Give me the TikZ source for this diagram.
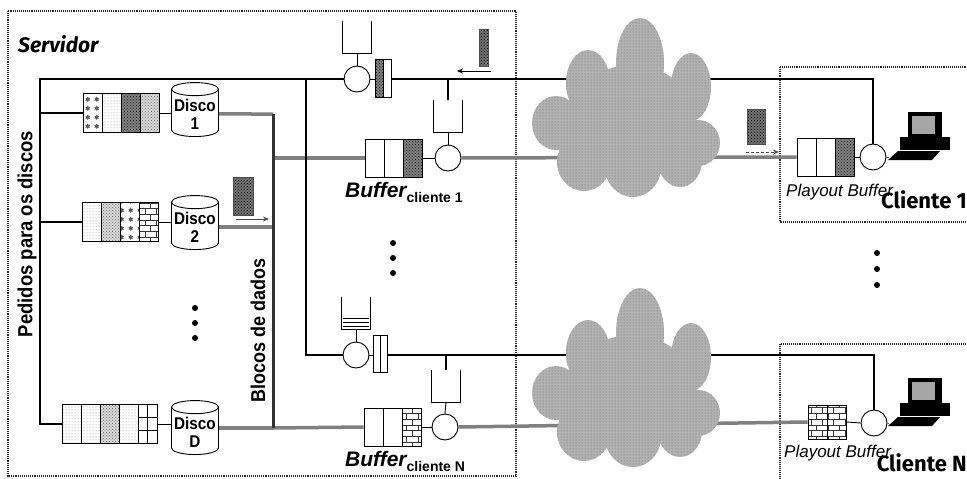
\documentclass[tikz,border=0pt]{standalone}
\usepackage{fontspec}
\setmainfont{Liberation Sans}
\newfontfamily\titlefont{Fira Sans}
\newfontfamily\narrowfont[FakeStretch=0.9]{Liberation Sans}
\usetikzlibrary{arrows.meta,shapes.geometric,patterns,calc}

\begin{document}
\begin{tikzpicture}[x=1pt, y=-1pt,
    frame/.style={densely dotted, line width=1.1pt, black!85},
    cell/.style={draw, line width=0.8pt, preaction={fill=white}, minimum width=19pt, minimum height=39pt, inner sep=0pt},
    branco/.style={},
    flor/.style={pattern=sixpointed stars, pattern color=black!65},
    claro/.style={pattern=dots, pattern color=black!45},
    escuro/.style={preaction={fill=black!50}, pattern=crosshatch dots, pattern color=black!90},
    medio/.style={preaction={fill=black!15}, pattern=crosshatch dots, pattern color=black!60},
    tijolo/.style={pattern=bricks, pattern color=black!80},
    disk/.style={cylinder, shape border rotate=90, draw, line width=0.9pt, fill=white, aspect=0.3,
                 minimum width=47pt, minimum height=54pt, inner sep=1pt, align=center,
                 font=\narrowfont\bfseries\fontsize{17}{18}\selectfont},
    srv/.style={circle, draw, line width=0.9pt, fill=white, minimum size=26pt, inner sep=0pt},
    tank/.style={minimum width=29pt, minimum height=32pt, inner sep=0pt},
    ctrl/.style={line width=2.6pt},
    data/.style={line width=3.5pt, draw=black!50},
    bus/.style={line width=3pt, draw=black!80},
    link/.style={line width=0.9pt},
    pkt/.style={draw=black!70, line width=0.5pt, preaction={fill=black!55}, pattern=crosshatch dots, pattern color=black, inner sep=0pt},
    seta/.style={-{Stealth[length=6pt,width=5pt]}, line width=0.6pt},
    nuvemfill/.style={preaction={fill=black!30}, pattern=dots, pattern color=black!60},
    nuvem/.pic={
        \fill[nuvemfill] (14,-42) ellipse (24 and 45)
            (-38,-22) ellipse (22 and 33)
            (65,-18) ellipse (20 and 34)
            (-70,18) ellipse (24 and 27)
            (72,38) ellipse (22 and 23)
            (-42,57) ellipse (27 and 29)
            (7,62) ellipse (28 and 30)
            (54,56) ellipse (22 and 26)
            (6,14) ellipse (62 and 54);
    },
    pc/.pic={
        \fill[black] (-20,-13) rectangle (30,0);
        \fill[black] (-12,-38) rectangle (22,-12);
        \fill[black!35] (-8,-34) rectangle (15,-16);
        \fill[black] (-32,10) -- (-22,1) -- (20,1) -- (12,10) -- cycle;
        \coordinate (-kb) at (-31,7);
    },
]
\useasboundingbox (0,0) rectangle (967,479);

% Frames
\draw[frame] (8,11) rectangle (516,476);
\draw[frame] (780,67) rectangle (975,222);
\draw[frame] (780,344) rectangle (975,490);

% Disk queues
\foreach \p [count=\i] in {flor,claro,escuro,medio}
    \node[cell,\p] (q1-\i) at ({73.5+19*\i},113) {};
\foreach \p [count=\i] in {claro,medio,flor,tijolo}
    \node[cell,\p] (q2-\i) at ({72.5+19*\i},222) {};
\foreach \p [count=\i] in {claro,claro,medio,claro,branco}
    \node[cell,\p] (qD-\i) at ({52.5+19*\i},424) {};
\draw[link] (qD-5.north) -- (qD-5.south)
    ($(qD-5.north west)!1/3!(qD-5.south west)$) -- ($(qD-5.north east)!1/3!(qD-5.south east)$)
    ($(qD-5.north west)!2/3!(qD-5.south west)$) -- ($(qD-5.north east)!2/3!(qD-5.south east)$);

% Disks
\node[disk] (d1) at (195,114) {Disco\\1};
\node[disk] (d2) at (195,227) {Disco\\2};
\node[disk] (dD) at (195,432) {Disco\\D};
\draw[link] (q1-4.east) -- (q1-4.east -| d1.west);
\draw[link] (q2-4.east) -- (q2-4.east -| d2.west);
\draw[link] (qD-5.east) -- (qD-5.east -| dD.west);

% Server side buffers
\foreach \p [count=\i] in {branco,branco,escuro}
    \node[cell,\p,minimum height=38pt] (bq1-\i) at ({355.5+19*\i},158) {};
\foreach \p [count=\i] in {branco,branco,tijolo}
    \node[cell,\p,minimum height=38pt] (bqN-\i) at ({354.5+19*\i},427) {};
\node[srv] (bs1) at (448,158) {};
\node[srv] (bsN) at (445,427) {};
\node[tank] (tb1) at (448,116) {};
\node[tank] (tbN) at (446,386) {};

% Request schedulers
\node[srv] (sv1) at (357,79) {};
\node[srv] (svN) at (356,355) {};
\node[tank] (tk1) at (357,37) {};
\node[tank] (tkN) at (356,313) {};
\node[cell,escuro,minimum width=8pt,minimum height=38pt] (sb1-1) at (379,78) {};
\node[cell,minimum width=8pt,minimum height=38pt] (sb1-2) at (387,78) {};
\node[cell,minimum width=7pt,minimum height=37pt] (sbN-1) at (376.5,354) {};
\node[cell,minimum width=7pt,minimum height=37pt] (sbN-2) at (383.5,354) {};

% Playout buffers
\foreach \p [count=\i] in {branco,branco,escuro}
    \node[cell,\p,minimum height=38pt] (pq1-\i) at ({787.5+19*\i},157) {};
\foreach \p [count=\i] in {tijolo,tijolo}
    \node[cell,\p,minimum height=34pt] (pqN-\i) at ({798.5+19*\i},422) {};
\node[srv] (pl1) at (873,157) {};
\node[srv] (plN) at (874,423) {};

% Data paths
\coordinate (busT) at (273,114);
\coordinate (busB) at (273,428);
\draw[data] (d1.east) -- (busT);
\draw[data] (d2.east) -- (d2.east -| busT);
\draw[data] (dD.east |- busB) -- (busB);
\draw[data] (busT |- bq1-1.west) -- (bq1-1.west);
\draw[data] (busB) -- (bqN-1.west);
\draw[data] (bs1.east) -- (pq1-1.west);
\draw[data] (bsN.east) -- (pqN-1.west);
\draw[bus] (busT) -- (busB);

% Request paths
\coordinate (pTop) at (40,79);
\coordinate (jTop) at (306,79);
\draw[ctrl] (sv1.west) -- (pTop) -- (pTop |- qD-1.west) -- (qD-1.west);
\draw[ctrl] (q1-1.west) -- (q1-1.west -| pTop);
\draw[ctrl] (q2-1.west) -- (q2-1.west -| pTop);
\draw[ctrl] (jTop) |- (svN.west);
\draw[ctrl] (sb1-2.east |- sv1) -| (pl1.north);
\draw[ctrl] (sbN-2.east |- svN) -| (plN.north);
\draw[ctrl] (tb1.north |- sv1) -- (tb1.north);
\draw[ctrl] (tbN.north |- svN) -- (tbN.north);

% Links
\draw[link] (sv1.east) -- (sb1-1.west |- sv1);
\draw[link] (svN.east) -- (sbN-1.west |- svN);
\draw[link] (tk1.south) -- (sv1.north);
\draw[link] (tkN.south) -- (svN.north);
\draw[link] (tb1.south) -- (bs1.north);
\draw[link] (tbN.south) -- (bsN.north);
\draw[link] (bq1-3.east) -- (bs1.west);
\draw[link] (bqN-3.east) -- (bsN.west);
\draw[link] (pq1-3.east) -- (pl1.west);
\draw[link] (pqN-2.east) -- (plN.west);
\foreach \t in {tk1,tkN,tb1,tbN}
    \draw[link] (\t.north west) |- (\t.south east) -- (\t.north east);
\foreach \k in {3,7,11}
    \draw[line width=1pt] ($(tkN.south west)+(2,-\k)$) -- ($(tkN.south east)+(-2,-\k)$);

% Networks
\pic at (626,105) {nuvem};
\pic at (626,375) {nuvem};

% Clients
\pic (host1) at (920,150) {pc};
\pic (hostN) at (920,416) {pc};
\draw[link, black!60] (pl1.east) -- (host1-kb);
\draw[link, black!60] (plN.east) -- (hostN-kb);

% Blocks in transit
\node[pkt, minimum width=20pt, minimum height=38pt] (pk1) at (243,196) {};
\node[pkt, minimum width=9pt, minimum height=37pt] (pk2) at (484,48) {};
\node[pkt, minimum width=18pt, minimum height=35pt] (pk3) at (756,127) {};
\coordinate (a1s) at (236,219); \coordinate (a1e) at (269,219);
\coordinate (a2s) at (491,71); \coordinate (a2e) at (457,71);
\coordinate (a3s) at (746,152); \coordinate (a3e) at (779,152);
\draw[seta, black!70] (a1s) -- (a1e);
\draw[seta] (a2s) -- (a2e);
\draw[seta, black!70, densely dashed] (a3s) -- (a3e);

% Ellipsis
\foreach \y in {308,323,338} \fill (195,\y) circle (3);
\foreach \y in {243,258,273} \fill (393,\y) circle (3);
\foreach \y in {253,269,285} \fill (877,\y) circle (3);

% Labels
\node[anchor=base west, inner sep=0, font=\titlefont\bfseries\itshape\fontsize{21}{22}\selectfont] (srvlbl) at (18,52) {Servidor};
\node[rotate=90, inner sep=0, font=\narrowfont\bfseries\fontsize{20.5}{22}\selectfont] (pedidos) at (27,234) {Pedidos para os discos};
\node[rotate=90, inner sep=0, font=\narrowfont\bfseries\fontsize{20}{22}\selectfont] (blocos) at (258,330) {Blocos de dados};
\node[anchor=base west, inner sep=0, font=\bfseries\fontsize{21}{22}\selectfont] (buf1) at (345,197)
    {\itshape Buffer\raisebox{-5pt}{\upshape\fontsize{14}{16}\selectfont cliente 1}};
\node[anchor=base west, inner sep=0, font=\bfseries\fontsize{21}{22}\selectfont] (bufN) at (345,466)
    {\itshape Buffer\raisebox{-5pt}{\upshape\fontsize{14}{16}\selectfont cliente N}};
\node[anchor=base west, inner sep=0, font=\itshape\fontsize{17}{18}\selectfont] (play1) at (786,196) {Playout Buffer};
\node[anchor=base west, inner sep=0, font=\itshape\fontsize{17}{18}\selectfont] (playN) at (784,457) {Playout Buffer};
\node[anchor=base east, inner sep=0, font=\titlefont\bfseries\fontsize{22}{22}\selectfont] (cli1) at (967,208) {Cliente 1};
\node[anchor=base east, inner sep=0, font=\titlefont\bfseries\fontsize{22}{22}\selectfont] (cliN) at (967,471) {Cliente N};
\end{tikzpicture}
\end{document}
